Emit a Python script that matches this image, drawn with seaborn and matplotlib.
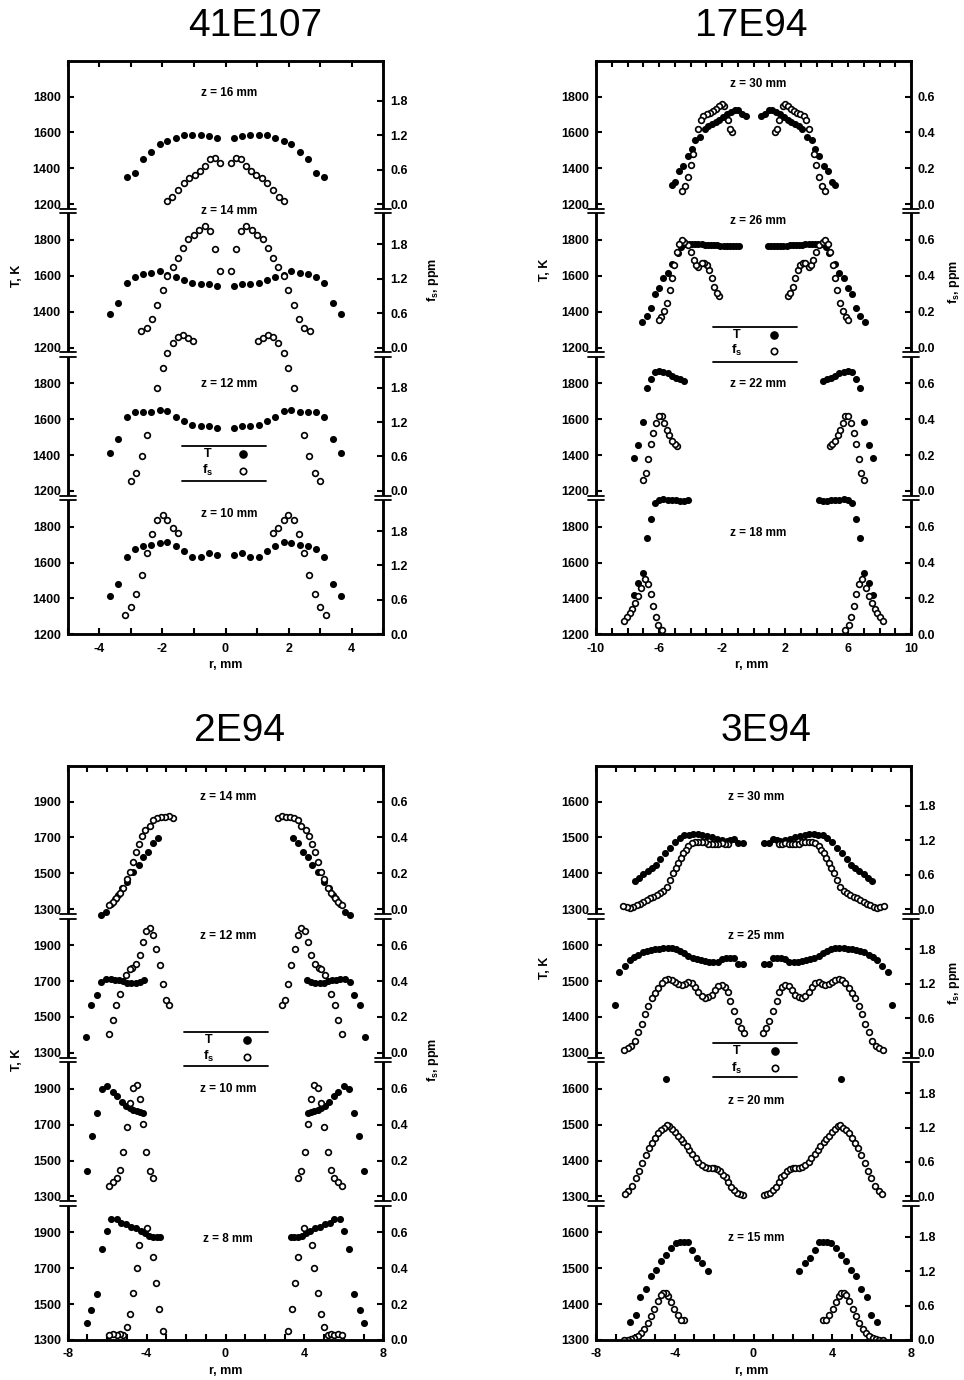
import numpy as np
import pandas as pd
import matplotlib
matplotlib.use("Agg")
import matplotlib.pyplot as plt
import seaborn as sns
from matplotlib.lines import Line2D
from matplotlib.patches import Rectangle

# ------------------------------------------------------------------
# DATA  (radial half-profiles, r in mm; plotted at +r and -r)
# ------------------------------------------------------------------
# ---- 41E107 ----
a16_T_r = [0.26, 0.53, 0.79, 1.05, 1.32, 1.58, 1.84, 2.08, 2.36, 2.61, 2.87, 3.13]
a16_T = [1570, 1579, 1584, 1584, 1583, 1571, 1553, 1534, 1490, 1454, 1376, 1352]
a16_fs_r = [0.16, 0.33, 0.50, 0.65, 0.81, 0.97, 1.15, 1.32, 1.50, 1.68, 1.84]
a16_fs = [0.71, 0.80, 0.78, 0.67, 0.57, 0.50, 0.45, 0.36, 0.24, 0.13, 0.05]

a14_T_r = [0.26, 0.53, 0.79, 1.05, 1.32, 1.58, 1.84, 2.08, 2.36, 2.61, 2.87, 3.13, 3.40, 3.66]
a14_T = [1544, 1555, 1555, 1562, 1579, 1596, 1605, 1625, 1618, 1609, 1594, 1562, 1447, 1389]
a14_fs_r = [0.16, 0.32, 0.50, 0.65, 0.84, 1.00, 1.18, 1.34, 1.50, 1.66, 1.84, 1.97, 2.18, 2.33, 2.50, 2.69]
a14_fs = [1.34, 1.72, 2.03, 2.12, 2.05, 1.96, 1.89, 1.74, 1.56, 1.40, 1.24, 1.01, 0.74, 0.50, 0.34, 0.28]

a12_T_r = [0.26, 0.53, 0.79, 1.05, 1.32, 1.58, 1.84, 2.08, 2.36, 2.61, 2.87, 3.13, 3.40, 3.66]
a12_T = [1551, 1560, 1560, 1570, 1588, 1614, 1648, 1653, 1642, 1640, 1640, 1614, 1492, 1414]
a12_fs_r = [1.02, 1.18, 1.34, 1.50, 1.66, 1.84, 1.99, 2.18, 2.50, 2.66, 2.84, 3.01]
a12_fs = [2.61, 2.67, 2.72, 2.69, 2.57, 2.40, 2.15, 1.80, 0.97, 0.60, 0.32, 0.18]

a10_T_r = [0.26, 0.53, 0.79, 1.05, 1.32, 1.58, 1.84, 2.08, 2.36, 2.61, 2.87, 3.13, 3.40, 3.66]
a10_T = [1644, 1651, 1629, 1634, 1666, 1692, 1714, 1709, 1698, 1692, 1675, 1631, 1482, 1415]
a10_fs_r = [1.50, 1.66, 1.84, 1.99, 2.18, 2.34, 2.50, 2.66, 2.84, 3.00, 3.17]
a10_fs = [1.76, 1.86, 1.99, 2.08, 1.99, 1.75, 1.41, 1.04, 0.71, 0.47, 0.34]

# ---- 17E94 ----
b30_T_r = [0.48, 0.71, 0.96, 1.17, 1.43, 1.70, 1.92, 2.17, 2.40, 2.61, 2.87, 3.08, 3.42, 3.71,
           3.90, 4.18, 4.45, 4.73, 4.98, 5.15]
b30_T = [1691, 1704, 1725, 1723, 1714, 1701, 1688, 1671, 1658, 1646, 1635, 1620, 1575, 1556,
         1508, 1470, 1414, 1386, 1322, 1307]
b30_fs_r = [1.34, 1.49, 1.64, 1.85, 2.02, 2.19, 2.38, 2.55, 2.76, 2.97, 3.19, 3.33, 3.50, 3.82,
            3.99, 4.18, 4.35, 4.52]
b30_fs = [0.40, 0.42, 0.47, 0.55, 0.56, 0.55, 0.53, 0.52, 0.51, 0.50, 0.49, 0.47, 0.42, 0.28,
          0.22, 0.15, 0.10, 0.075]

b26_T_r = [0.90, 1.10, 1.30, 1.50, 1.70, 1.90, 2.10, 2.30, 2.50, 2.70, 2.90, 3.10, 3.30, 3.50,
           3.70, 3.90, 4.10, 4.35, 4.60, 4.81, 5.20, 5.45, 5.72, 5.98, 6.25, 6.51, 6.78, 7.06]
b26_T = [1768, 1768, 1767, 1767, 1768, 1768, 1769, 1770, 1771, 1772, 1773, 1774, 1775, 1776,
         1777, 1778, 1779, 1776, 1759, 1729, 1664, 1617, 1586, 1530, 1496, 1418, 1377, 1343]
b26_fs_r = [2.19, 2.34, 2.51, 2.66, 2.83, 2.97, 3.12, 3.29, 3.50, 3.65, 3.80, 3.97, 4.18, 4.39,
            4.52, 4.73, 4.88, 5.03, 5.15, 5.30, 5.51, 5.66, 5.87, 6.00]
b26_fs = [0.29, 0.305, 0.34, 0.385, 0.43, 0.46, 0.47, 0.47, 0.45, 0.46, 0.49, 0.53, 0.57, 0.59,
          0.60, 0.575, 0.53, 0.46, 0.385, 0.32, 0.25, 0.205, 0.17, 0.155]

b22_T_r = [4.39, 4.67, 4.92, 5.20, 5.45, 5.72, 5.98, 6.25, 6.51, 6.78, 7.04, 7.31, 7.57]
b22_T = [1815, 1822, 1831, 1843, 1856, 1863, 1867, 1861, 1824, 1772, 1586, 1456, 1384]
b22_fs_r = [4.88, 5.01, 5.17, 5.34, 5.51, 5.68, 5.81, 6.02, 6.19, 6.36, 6.51, 6.68, 6.83, 7.04]
b22_fs = [0.25, 0.26, 0.28, 0.31, 0.34, 0.38, 0.42, 0.42, 0.38, 0.325, 0.26, 0.18, 0.10, 0.06]

b18_T_r = [4.14, 4.39, 4.67, 4.92, 5.20, 5.45, 5.72, 5.98, 6.25, 6.51, 6.78, 7.04, 7.31, 7.57]
b18_T = [1952, 1943, 1943, 1948, 1948, 1952, 1954, 1948, 1930, 1841, 1739, 1544, 1484, 1419]
b18_fs_r = [5.83, 6.04, 6.19, 6.36, 6.51, 6.68, 6.89, 7.16, 7.31, 7.52, 7.69, 7.86, 8.01, 8.20]
b18_fs = [0.023, 0.051, 0.094, 0.159, 0.225, 0.281, 0.31, 0.259, 0.216, 0.173, 0.141, 0.118,
          0.099, 0.075]

# ---- 2E94 ----
c14_T_r = [3.44, 3.67, 3.93, 4.18, 4.40, 4.70, 4.99, 5.25, 5.45, 5.62, 5.82, 6.04, 6.29]
c14_T = [1698, 1669, 1619, 1594, 1548, 1506, 1454, 1420, 1379, 1360, 1332, 1285, 1270]
c14_fs_r = [2.66, 2.87, 3.05, 3.25, 3.46, 3.66, 3.84, 4.06, 4.23, 4.38, 4.52, 4.69, 4.86, 4.98,
            5.20, 5.36, 5.53, 5.70, 5.91]
c14_fs = [0.51, 0.52, 0.516, 0.514, 0.51, 0.495, 0.463, 0.439, 0.407, 0.366, 0.32, 0.263, 0.21,
          0.167, 0.12, 0.092, 0.064, 0.041, 0.023]

c12_T_r = [4.13, 4.35, 4.55, 4.78, 4.98, 5.20, 5.41, 5.62, 5.82, 6.04, 6.29, 6.51, 6.80, 7.06]
c12_T = [1704, 1695, 1691, 1691, 1691, 1699, 1704, 1708, 1714, 1714, 1695, 1624, 1565, 1388]
c12_fs_r = [2.86, 3.03, 3.17, 3.34, 3.51, 3.67, 3.84, 4.01, 4.18, 4.35, 4.52, 4.72, 4.86, 5.06,
            5.36, 5.53, 5.70, 5.91]
c12_fs = [0.264, 0.296, 0.385, 0.488, 0.581, 0.655, 0.696, 0.678, 0.618, 0.544, 0.497, 0.475,
          0.466, 0.436, 0.33, 0.264, 0.184, 0.106]

c10_T_r = [4.17, 4.33, 4.50, 4.67, 4.84, 5.04, 5.23, 5.48, 5.72, 5.99, 6.28, 6.53, 6.79, 7.04]
c10_T = [1766, 1770, 1775, 1783, 1794, 1805, 1824, 1857, 1881, 1918, 1900, 1766, 1634, 1439]
c10_fs_r = [3.66, 3.83, 4.03, 4.17, 4.34, 4.50, 4.71, 4.84, 5.01, 5.18, 5.35, 5.52, 5.69, 5.89]
c10_fs = [0.102, 0.141, 0.247, 0.401, 0.541, 0.619, 0.604, 0.52, 0.387, 0.247, 0.15, 0.102,
          0.08, 0.058]

c8_T_r = [3.32, 3.49, 3.69, 3.88, 4.08, 4.30, 4.53, 4.79, 5.04, 5.30, 5.52, 5.82, 6.02, 6.28,
          6.53, 6.82, 7.04]
c8_T = [1876, 1876, 1876, 1880, 1894, 1909, 1922, 1931, 1944, 1954, 1974, 1972, 1907, 1805,
        1556, 1467, 1397]
c8_fs_r = [3.15, 3.35, 3.52, 3.69, 4.00, 4.37, 4.50, 4.67, 4.84, 5.01, 5.18, 5.35, 5.52, 5.72,
           5.89]
c8_fs = [0.052, 0.171, 0.32, 0.465, 0.626, 0.53, 0.403, 0.264, 0.145, 0.071, 0.028, 0.033,
         0.028, 0.032, 0.028]

# ---- 3E94 ----
d30_T_r = [0.52, 0.77, 0.97, 1.19, 1.36, 1.62, 1.87, 2.12, 2.38, 2.60, 2.80, 3.06, 3.28, 3.51,
           3.73, 3.99, 4.24, 4.50, 4.75, 4.95, 5.17, 5.38, 5.60, 5.82, 6.02]
d30_T = [1485, 1485, 1497, 1494, 1491, 1494, 1497, 1501, 1503, 1508, 1510, 1510, 1508, 1506,
         1499, 1487, 1472, 1457, 1440, 1424, 1414, 1407, 1397, 1388, 1380]
d30_fs_r = [1.28, 1.45, 1.62, 1.79, 1.96, 2.12, 2.29, 2.46, 2.63, 2.80, 2.97, 3.14, 3.31, 3.45,
            3.56, 3.68, 3.82, 3.95, 4.11, 4.24, 4.41, 4.58, 4.75, 4.92, 5.09, 5.26, 5.43, 5.60,
            5.77, 5.93, 6.10, 6.27, 6.44, 6.61]
d30_fs = [1.13, 1.13, 1.15, 1.14, 1.13, 1.13, 1.14, 1.17, 1.17, 1.18, 1.18, 1.15, 1.10, 1.04,
          0.98, 0.89, 0.80, 0.72, 0.63, 0.51, 0.39, 0.32, 0.28, 0.25, 0.22, 0.19, 0.16, 0.13,
          0.10, 0.07, 0.041, 0.029, 0.041, 0.059]

d25_T_r = [0.52, 0.77, 0.97, 1.19, 1.40, 1.62, 1.82, 2.04, 2.24, 2.46, 2.67, 2.89, 3.09, 3.31,
           3.51, 3.73, 3.94, 4.16, 4.36, 4.58, 4.78, 5.00, 5.21, 5.43, 5.63, 5.85, 6.05, 6.27,
           6.53, 6.81, 7.03]
d25_T = [1548, 1548, 1563, 1565, 1565, 1561, 1553, 1552, 1554, 1556, 1558, 1561, 1565, 1570,
         1577, 1583, 1588, 1592, 1593, 1592, 1590, 1588, 1586, 1583, 1580, 1574, 1567, 1560,
         1541, 1525, 1434]
d25_fs_r = [0.48, 0.65, 0.80, 0.97, 1.19, 1.31, 1.45, 1.62, 1.79, 1.95, 2.12, 2.29, 2.46, 2.63,
            2.80, 2.97, 3.14, 3.31, 3.48, 3.65, 3.82, 3.99, 4.16, 4.33, 4.50, 4.66, 4.83, 5.00,
            5.17, 5.34, 5.51, 5.68, 5.85, 6.02, 6.22, 6.39, 6.56]
d25_fs = [0.35, 0.44, 0.55, 0.73, 0.91, 1.06, 1.15, 1.18, 1.16, 1.09, 1.01, 0.97, 0.96, 0.99,
          1.06, 1.15, 1.21, 1.23, 1.20, 1.18, 1.20, 1.23, 1.26, 1.28, 1.27, 1.21, 1.13, 1.05,
          0.95, 0.82, 0.67, 0.51, 0.355, 0.203, 0.116, 0.076, 0.047]

d20_T_r = [4.44]
d20_T = [1628]
d20_fs_r = [0.52, 0.69, 0.85, 0.99, 1.14, 1.28, 1.41, 1.57, 1.70, 1.87, 1.99, 2.12, 2.29, 2.46,
            2.63, 2.80, 2.94, 3.11, 3.26, 3.39, 3.56, 3.70, 3.85, 3.99, 4.14, 4.27, 4.41, 4.55,
            4.70, 4.83, 5.00, 5.17, 5.31, 5.46, 5.65, 5.82, 5.99, 6.19, 6.36, 6.53]
d20_fs = [0.029, 0.035, 0.058, 0.105, 0.17, 0.25, 0.34, 0.38, 0.44, 0.48, 0.50, 0.50, 0.50,
          0.51, 0.54, 0.60, 0.67, 0.74, 0.81, 0.87, 0.94, 1.00, 1.06, 1.12, 1.18, 1.22, 1.24,
          1.20, 1.15, 1.10, 1.02, 0.93, 0.85, 0.73, 0.58, 0.45, 0.325, 0.19, 0.093, 0.035]

d15_T_r = [2.33, 2.60, 2.85, 3.11, 3.34, 3.53, 3.73, 3.94, 4.19, 4.44, 4.72, 4.97, 5.22, 5.48,
           5.77, 5.99, 6.27]
d15_T = [1493, 1514, 1529, 1551, 1574, 1574, 1574, 1570, 1556, 1537, 1521, 1495, 1479, 1442,
         1421, 1371, 1349]
d15_fs_r = [3.51, 3.68, 3.85, 4.02, 4.19, 4.33, 4.44, 4.58, 4.70, 4.87, 5.04, 5.21, 5.38, 5.54,
            5.71, 5.88, 6.05, 6.22, 6.39, 6.56]
d15_fs = [0.34, 0.35, 0.43, 0.54, 0.66, 0.76, 0.82, 0.82, 0.78, 0.68, 0.54, 0.41, 0.29, 0.19,
          0.12, 0.076, 0.03, 0.018, 0.006, 0.006]

titles = ["41E107", "17E94", "2E94", "3E94"]
z_labels = [["z = 16 mm", "z = 14 mm", "z = 12 mm", "z = 10 mm"],
            ["z = 30 mm", "z = 26 mm", "z = 22 mm", "z = 18 mm"],
            ["z = 14 mm", "z = 12 mm", "z = 10 mm", "z = 8 mm"],
            ["z = 30 mm", "z = 25 mm", "z = 20 mm", "z = 15 mm"]]
T_ticks = [[1200, 1400, 1600, 1800], [1200, 1400, 1600, 1800],
           [1300, 1500, 1700, 1900], [1300, 1400, 1500, 1600]]
fs_ticks = [[0.0, 0.6, 1.2, 1.8], [0.0, 0.2, 0.4, 0.6],
            [0.0, 0.2, 0.4, 0.6], [0.0, 0.6, 1.2, 1.8]]
x_labeled = [[-4, -2, 0, 2, 4], [-10, -6, -2, 2, 6, 10], [-8, -4, 0, 4, 8], [-8, -4, 0, 4, 8]]

# strips listed top -> bottom
strips = [
    [(a16_T_r, a16_T, a16_fs_r, a16_fs), (a14_T_r, a14_T, a14_fs_r, a14_fs),
     (a12_T_r, a12_T, a12_fs_r, a12_fs), (a10_T_r, a10_T, a10_fs_r, a10_fs)],
    [(b30_T_r, b30_T, b30_fs_r, b30_fs), (b26_T_r, b26_T, b26_fs_r, b26_fs),
     (b22_T_r, b22_T, b22_fs_r, b22_fs), (b18_T_r, b18_T, b18_fs_r, b18_fs)],
    [(c14_T_r, c14_T, c14_fs_r, c14_fs), (c12_T_r, c12_T, c12_fs_r, c12_fs),
     (c10_T_r, c10_T, c10_fs_r, c10_fs), (c8_T_r, c8_T, c8_fs_r, c8_fs)],
    [(d30_T_r, d30_T, d30_fs_r, d30_fs), (d25_T_r, d25_T, d25_fs_r, d25_fs),
     (d20_T_r, d20_T, d20_fs_r, d20_fs), (d15_T_r, d15_T, d15_fs_r, d15_fs)],
]

# ------------------------------------------------------------------
# layout / style (pixel geometry of the reference)
# ------------------------------------------------------------------
W_PX, H_PX = 964, 1380
panel_px = [(67.7, 60.7, 383.3, 634.3), (596.0, 60.7, 911.0, 634.3),
            (67.7, 765.7, 383.3, 1340.0), (596.0, 765.7, 911.0, 1340.0)]
xlims = [(-5, 5), (-10, 10), (-8, 8), (-8, 8)]
T_span = [800, 800, 800, 400]
fs_span = [2.5, 0.8, 0.8, 2.5]
title_pos = [(255, 26), (751, 26), (240, 731), (766, 731)]
z_pos = [[(0.511, 3.775), (0.511, 2.952), (0.511, 1.745), (0.511, 0.839)],
         [(0.515, 3.835), (0.515, 2.884), (0.515, 1.743), (0.515, 0.704)],
         [(0.509, 3.780), (0.509, 2.813), (0.509, 1.746), (0.509, 0.701)],
         [(0.510, 3.783), (0.510, 2.813), (0.510, 1.667), (0.510, 0.708)]]
# legend: x0, x1, ytop, ybot, xtext, xmark, yT, yfs (axes fraction)
leg = [(0.362, 0.628, 0.328, 0.268, 0.443, 0.557, 0.314, 0.285),
       (0.370, 0.637, 0.536, 0.475, 0.447, 0.566, 0.522, 0.494),
       (0.369, 0.636, 0.537, 0.477, 0.446, 0.567, 0.523, 0.493),
       (0.372, 0.637, 0.518, 0.458, 0.447, 0.568, 0.503, 0.473)]
ylab_y = [0.625, 0.635, 0.488, 0.648]
fslab_y = [0.618, 0.615, 0.488, 0.622]
fslab_dx = [50.0, 43.0, 50.0, 43.0]

sns.set_theme(style="ticks")
plt.rcParams["font.family"] = ["Liberation Sans", "DejaVu Sans"]
plt.rcParams["mathtext.fontset"] = "custom"
plt.rcParams["mathtext.rm"] = "Liberation Sans"
plt.rcParams["mathtext.bf"] = "Liberation Sans:bold"
plt.rcParams["mathtext.it"] = "Liberation Sans:italic"
for key in ("text.color", "axes.labelcolor", "xtick.color", "ytick.color", "axes.edgecolor"):
    plt.rcParams[key] = "black"

fig = plt.figure(figsize=(W_PX / 100, H_PX / 100), dpi=100)
fig.patch.set_facecolor("white")

TICK_FS = 9
for p in range(4):
    x0p, y0p, x1p, y1p = panel_px[p]
    wpx, hpx = x1p - x0p, y1p - y0p
    ax = fig.add_axes([x0p / W_PX, 1 - y1p / H_PX, wpx / W_PX, hpx / H_PX])
    tmin = T_ticks[p][0]
    rows = []
    for i, (tr, tv, fr, fv) in enumerate(strips[p]):
        k = 3 - i
        for r, t in zip(tr, tv):
            yv = k + (t - tmin) / T_span[p]
            rows.append((-r, yv, "T"))
            rows.append((r, yv, "T"))
        for r, f in zip(fr, fv):
            yv = k + f / fs_span[p]
            rows.append((-r, yv, "fs"))
            rows.append((r, yv, "fs"))
    df = pd.DataFrame(rows, columns=["r", "y", "kind"])
    sns.scatterplot(data=df[df.kind == "T"], x="r", y="y", ax=ax, color="black",
                    s=26, linewidth=0, legend=False, zorder=3)
    sns.scatterplot(data=df[df.kind == "fs"], x="r", y="y", ax=ax, color="white",
                    edgecolor="black", s=17, linewidth=1.2, legend=False, zorder=4)

    ax.set_xlim(*xlims[p])
    ax.set_ylim(0, 4)
    ax.set_xlabel("")
    ax.set_ylabel("")
    xt = list(range(xlims[p][0], xlims[p][1] + 1))
    ax.set_xticks(xt)
    ax.set_xticklabels([str(v) if v in x_labeled[p] else "" for v in xt])
    ax.tick_params(axis="x", which="both", direction="in", top=True, bottom=True,
                   length=4, width=1.5, labelsize=TICK_FS, pad=6, colors="black")

    lpos, llab, rpos, rlab = [], [], [], []
    for k in range(4):
        for t in T_ticks[p]:
            lpos.append(k + (t - tmin) / T_span[p])
            llab.append(str(t))
        for f in fs_ticks[p]:
            rpos.append(k + f / fs_span[p])
            rlab.append(f"{f:.1f}")
    ax.set_yticks(lpos)
    ax.set_yticklabels(llab)
    ax.tick_params(axis="y", direction="in", left=True, right=False, length=4,
                   width=1.5, labelsize=TICK_FS, pad=5, colors="black")
    ax2 = ax.twinx()
    ax2.set_ylim(0, 4)
    ax2.set_yticks(rpos)
    ax2.set_yticklabels(rlab)
    ax2.tick_params(axis="y", direction="in", length=4, width=1.5,
                    labelsize=TICK_FS, pad=5, colors="black")
    for a in (ax, ax2):
        for s in a.spines.values():
            s.set_linewidth(1.8)
            s.set_color("black")
        for lab in a.get_xticklabels() + a.get_yticklabels():
            lab.set_fontweight("bold")

    # axis breaks
    dxw = 8.0 / wpx
    dyh = 2.2 / hpx
    for k in (1, 2, 3):
        yb = (k - 0.05) / 4
        for xs in (0.0, 1.0):
            ax2.add_patch(Rectangle((xs - 3.0 / wpx, yb - dyh), 6.0 / wpx, 2 * dyh,
                                    transform=ax2.transAxes, facecolor="white",
                                    edgecolor="none", clip_on=False, zorder=10))
            for yy in (yb - dyh, yb + dyh):
                ax2.add_line(Line2D([xs - dxw, xs + dxw], [yy, yy], transform=ax2.transAxes,
                                    color="black", lw=1.3, clip_on=False, zorder=11))

    # strip labels
    for i, (zx, zy) in enumerate(z_pos[p]):
        ax.text(zx, zy / 4, z_labels[p][i], transform=ax.transAxes, ha="center",
                va="center", fontsize=8.5, fontweight="bold")

    # legend (table style)
    lx0, lx1, lyt, lyb, lxt, lxm, lyT, lyf = leg[p]
    for yy in (lyt, lyb):
        ax.add_line(Line2D([lx0, lx1], [yy, yy], transform=ax.transAxes, color="black", lw=1.3))
    ax.text(lxt, lyT, "T", transform=ax.transAxes, ha="center", va="center",
            fontsize=9, fontweight="bold")
    ax.text(lxt, lyf, r"$\mathbf{f_s}$", transform=ax.transAxes, ha="center", va="center",
            fontsize=9.5)
    ax.add_line(Line2D([lxm], [lyT], transform=ax.transAxes, marker="o", ls="none",
                       ms=5.2, mfc="black", mec="black"))
    ax.add_line(Line2D([lxm], [lyf], transform=ax.transAxes, marker="o", ls="none",
                       ms=4.6, mfc="white", mec="black", mew=1.2))

    # axis labels
    ax.text(-50.5 / wpx, ylab_y[p], "T, K", transform=ax.transAxes, rotation=90,
            ha="center", va="center", fontsize=9, fontweight="bold")
    ax.text(1 + fslab_dx[p] / wpx, fslab_y[p], r"$\mathbf{f_s}$, ppm", transform=ax.transAxes,
            rotation=90, ha="center", va="center", fontsize=9, fontweight="bold")
    ax.text(0.5 if p % 2 == 0 else 0.494, -31.0 / hpx, "r, mm", transform=ax.transAxes,
            ha="center", va="center", fontsize=9, fontweight="bold")

    tx, ty = title_pos[p]
    fig.text(tx / W_PX, 1 - ty / H_PX, titles[p], ha="center", va="center", fontsize=28,
             color="black")

fig.savefig("out.png", dpi=100, facecolor="white")
